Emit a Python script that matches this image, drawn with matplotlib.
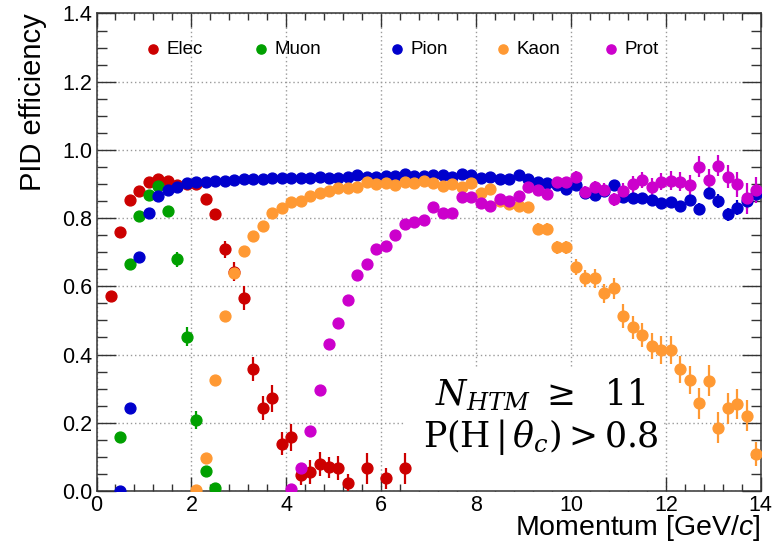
import numpy as np
import matplotlib
matplotlib.use("Agg")
import matplotlib.pyplot as plt
from matplotlib.patches import Rectangle
from matplotlib.ticker import MultipleLocator, FormatStrFormatter

plt.rcParams["font.family"] = ["Liberation Sans", "DejaVu Sans"]
plt.rcParams["mathtext.fontset"] = "custom"
plt.rcParams["mathtext.rm"] = "Liberation Sans"
plt.rcParams["mathtext.it"] = "Liberation Sans:italic"

# ---- PID efficiency vs momentum (bin centres, GeV/c) ----
species = ["Elec", "Muon", "Pion", "Kaon", "Prot"]
colors = ["#cc0000", "#00a000", "#0000cc", "#ff9933", "#cc00cc"]

elec_p = [0.3, 0.5, 0.7, 0.9, 1.1, 1.3, 1.5, 1.7, 1.9, 2.1, 2.3, 2.5, 2.7, 2.9,
          3.1, 3.3, 3.5, 3.7, 3.9, 4.1, 4.3, 4.5, 4.7, 4.9, 5.1, 5.3, 5.7, 6.1, 6.5]
elec_eff = [0.573, 0.760, 0.853, 0.880, 0.905, 0.916, 0.909, 0.897, 0.900, 0.900,
            0.855, 0.812, 0.709, 0.643, 0.566, 0.358, 0.243, 0.271, 0.139, 0.157,
            0.047, 0.056, 0.079, 0.069, 0.066, 0.024, 0.066, 0.037, 0.066]
elec_err = [0.005, 0.006, 0.006, 0.006, 0.006, 0.006, 0.008, 0.008, 0.008, 0.010,
            0.012, 0.015, 0.025, 0.028, 0.035, 0.035, 0.035, 0.040, 0.035, 0.040,
            0.030, 0.035, 0.035, 0.030, 0.035, 0.025, 0.045, 0.030, 0.045]

muon_p = [0.5, 0.7, 0.9, 1.1, 1.3, 1.5, 1.7, 1.9, 2.1, 2.3, 2.5]
muon_eff = [0.159, 0.666, 0.807, 0.868, 0.894, 0.822, 0.679, 0.452, 0.208, 0.059, 0.008]
muon_err = [0.008, 0.010, 0.008, 0.008, 0.008, 0.012, 0.022, 0.028, 0.025, 0.010, 0.005]

pion_p = np.round(np.arange(0.5, 14.0, 0.2), 1)
pion_eff = [0.000, 0.243, 0.687, 0.816, 0.865, 0.882, 0.892, 0.902, 0.905, 0.907,
            0.909, 0.910, 0.912, 0.914, 0.916, 0.916, 0.917, 0.917, 0.918, 0.918,
            0.919, 0.920, 0.919, 0.919, 0.920, 0.927, 0.920, 0.920, 0.922, 0.922,
            0.928, 0.922, 0.924, 0.926, 0.926, 0.921, 0.929, 0.926, 0.919, 0.921,
            0.916, 0.915, 0.925, 0.914, 0.907, 0.902, 0.898, 0.884, 0.897, 0.875,
            0.868, 0.880, 0.897, 0.863, 0.860, 0.858, 0.853, 0.843, 0.846, 0.835,
            0.853, 0.826, 0.873, 0.851, 0.811, 0.830, 0.850, 0.870]
pion_err = [0.003] * 45 + [0.010, 0.010, 0.012, 0.012, 0.012, 0.012, 0.014, 0.014,
            0.014, 0.014, 0.015, 0.015, 0.015, 0.016, 0.016, 0.016, 0.017, 0.018,
            0.020, 0.020, 0.022, 0.022, 0.024]

kaon_p = np.round(np.arange(2.1, 14.0, 0.2), 1)
kaon_eff = [0.003, 0.097, 0.325, 0.514, 0.638, 0.704, 0.747, 0.778, 0.814, 0.830,
            0.846, 0.850, 0.865, 0.873, 0.880, 0.887, 0.887, 0.890, 0.905, 0.899,
            0.902, 0.897, 0.905, 0.902, 0.910, 0.902, 0.895, 0.900, 0.892, 0.902,
            0.875, 0.884, 0.850, 0.840, 0.835, 0.832, 0.768, 0.768, 0.714, 0.714,
            0.656, 0.623, 0.623, 0.579, 0.594, 0.513, 0.480, 0.457, 0.425, 0.413,
            0.413, 0.357, 0.325, 0.257, 0.323, 0.185, 0.242, 0.255, 0.221, 0.107]
kaon_err = [0.004] * 30 + [0.012, 0.012, 0.012, 0.013, 0.013, 0.014, 0.018, 0.018,
            0.020, 0.020, 0.024, 0.025, 0.027, 0.028, 0.030, 0.034, 0.034, 0.035,
            0.038, 0.040, 0.040, 0.040, 0.040, 0.045, 0.045, 0.045, 0.045, 0.045,
            0.045, 0.035]

prot_p = np.round(np.arange(4.1, 14.0, 0.2), 1)
prot_eff = [0.005, 0.066, 0.176, 0.296, 0.430, 0.493, 0.560, 0.633, 0.664, 0.709,
            0.718, 0.750, 0.782, 0.789, 0.794, 0.834, 0.816, 0.814, 0.863, 0.863,
            0.845, 0.836, 0.855, 0.851, 0.866, 0.892, 0.882, 0.872, 0.905, 0.905,
            0.921, 0.877, 0.890, 0.882, 0.855, 0.880, 0.899, 0.912, 0.892, 0.907,
            0.910, 0.907, 0.897, 0.951, 0.912, 0.954, 0.921, 0.899, 0.858, 0.883]
prot_err = [0.004] * 20 + [0.010, 0.010, 0.012, 0.012, 0.012, 0.014, 0.015, 0.015,
            0.016, 0.016, 0.018, 0.018, 0.020, 0.020, 0.020, 0.022, 0.024, 0.024,
            0.026, 0.026, 0.028, 0.028, 0.030, 0.030, 0.032, 0.032, 0.034, 0.036,
            0.045, 0.038]

series = [
    (elec_p, elec_eff, elec_err),
    (muon_p, muon_eff, muon_err),
    (pion_p, pion_eff, pion_err),
    (kaon_p, kaon_eff, kaon_err),
    (prot_p, prot_eff, prot_err),
]

x_ticks = [0, 2, 4, 6, 8, 10, 12, 14]
y_ticks = [0.0, 0.2, 0.4, 0.6, 0.8, 1.0, 1.2, 1.4]

fig = plt.figure(figsize=(7.79, 5.46), dpi=100)
ax = fig.add_axes([0.1239, 0.1009, 0.9766 - 0.1239, 0.9753 - 0.1009])

for (p, eff, err), col, name in zip(series, colors, species):
    ax.errorbar(p, eff, yerr=err, fmt="o", color=col, ms=7.8, mec=col,
                elinewidth=1.6, capsize=0, zorder=3)

ax.set_xlim(0, 14)
ax.set_ylim(0, 1.4)
ax.set_xticks(x_ticks)
ax.set_yticks(y_ticks)
ax.xaxis.set_minor_locator(MultipleLocator(0.4))
ax.yaxis.set_minor_locator(MultipleLocator(0.05))
ax.yaxis.set_major_formatter(FormatStrFormatter("%.1f"))
ax.xaxis.set_major_formatter(FormatStrFormatter("%d"))

ax.tick_params(axis="both", which="both", direction="in", top=True, right=True,
               labelsize=15.5, colors="#333333", labelcolor="black", width=1.0)
ax.tick_params(axis="x", which="major", length=10, pad=3)
ax.tick_params(axis="x", which="minor", length=5)
ax.tick_params(axis="y", which="major", length=14, pad=3)
ax.tick_params(axis="y", which="minor", length=7)
for sp in ax.spines.values():
    sp.set_linewidth(1.1)
    sp.set_color("#333333")

ax.grid(True, which="major", color="#9a9a9a", linestyle=(0, (1, 2)),
        linewidth=1.0, zorder=0.5)
ax.set_axisbelow(True)

ax.set_ylabel("PID efficiency", fontsize=21, loc="top")
ax.yaxis.set_label_coords(-0.0745, 1.0)
ax.set_xlabel("Momentum [GeV/$c$]", fontsize=20.5, loc="right")
ax.xaxis.set_label_coords(1.0, -0.046)

# legend row across the top of the frame (ROOT-style fixed columns)
legend_x = [0.085, 0.2476, 0.4524, 0.6119, 0.7745]
legend_y = 0.925
for name, col, lx in zip(species, colors, legend_x):
    ax.plot([lx], [legend_y], "o", color=col, ms=6.6, transform=ax.transAxes,
            zorder=4, clip_on=False)
    ax.text(lx + 0.021, legend_y, name, fontsize=13.5, va="center", ha="left",
            transform=ax.transAxes, zorder=4)

# selection-cut annotation on a white pave
ax.add_patch(Rectangle((6.5, 0.0), 5.44, 0.363, facecolor="white",
                       edgecolor="none", zorder=1))
ax.text(9.35, 0.252, r"$N_{HTM}\ \geq\ \ 11$", fontsize=25, ha="center",
        va="baseline", math_fontfamily="dejavuserif", zorder=2)
ax.text(9.35, 0.129, r"$\mathrm{P(H\,|\,}\theta_c\mathrm{)} > \mathrm{0.8}$",
        fontsize=25, ha="center", va="baseline", math_fontfamily="dejavuserif",
        zorder=2)

fig.savefig("out.png", dpi=100)
